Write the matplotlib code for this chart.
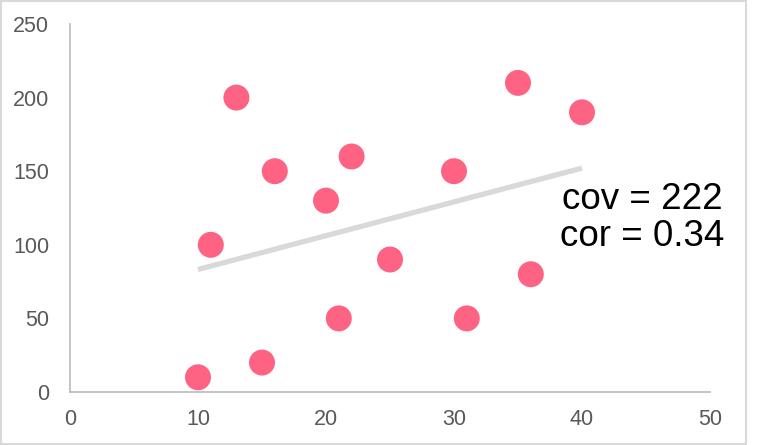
import numpy as np
import matplotlib
matplotlib.use("Agg")
import matplotlib.pyplot as plt
from matplotlib.patches import Rectangle

# data
x_vals = [10, 11, 13, 15, 16, 20, 21, 22, 25, 30, 31, 35, 36, 40]
y_vals = [10, 100, 200, 20, 150, 130, 50, 160, 90, 150, 50, 210, 80, 190]
x_ticks = [0, 10, 20, 30, 40, 50]
y_ticks = [0, 50, 100, 150, 200, 250]
label_text = "cov = 222\ncor = 0.34"

plt.rcParams['font.family'] = ['Liberation Sans', 'DejaVu Sans']

W, H = 773, 445
fig = plt.figure(figsize=(W / 100, H / 100), dpi=100)

# outer frame
fig.patches.append(Rectangle((1 / W, 1 / H), 745 / W, 443 / H, transform=fig.transFigure,
                             fill=False, edgecolor='#D9D9D9', linewidth=1.5))

ax = fig.add_axes([70 / W, (H - 392) / H, 640 / W, 368 / H])

# trend line from least squares fit
xs = np.array(x_vals, dtype=float)
ys = np.array(y_vals, dtype=float)
slope, icpt = np.polyfit(xs, ys, 1)
lx = np.array([xs.min(), xs.max()])
ax.plot(lx, slope * lx + icpt, color='#D9D9D9', linewidth=3.8, solid_capstyle='butt', zorder=2)

ax.scatter(xs, ys, s=350, color='#FF6384', edgecolors='none', zorder=3, clip_on=False)

ax.set_xlim(0, 50)
ax.set_ylim(0, 250)
ax.set_xticks(x_ticks)
ax.set_yticks(y_ticks)

for s in ['top', 'right']:
    ax.spines[s].set_visible(False)
for s in ['left', 'bottom']:
    ax.spines[s].set_color('#BFBFBF')
    ax.spines[s].set_linewidth(1.3)

ax.tick_params(axis='both', length=0, labelsize=15.5, labelcolor='#595959')
ax.tick_params(axis='y', pad=15)
ax.tick_params(axis='x', pad=12)

fig.text(642 / W, 1 - 218 / H, label_text, ha='center', va='center',
         fontsize=26.5, color='black', linespacing=1.1)

fig.savefig("out.png", dpi=100)
